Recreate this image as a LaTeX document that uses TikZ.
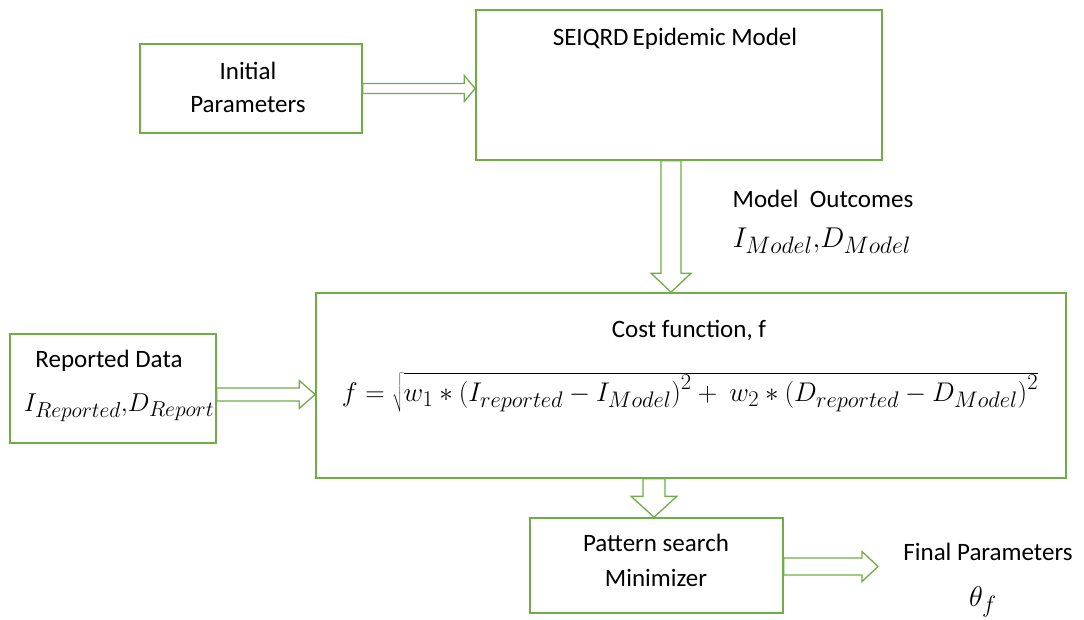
\documentclass[tikz,border=0pt]{standalone}
\usepackage{graphicx}
\usepackage{fontspec}
\setmainfont{Carlito}
\usetikzlibrary{calc}
\definecolor{boxgreen}{RGB}{112,173,71}
\pgfdeclarelayer{bg}
\pgfsetlayers{bg,main}

% hollow block arrows: start, tip, shaft half-width, head half-width, head length
\newcommand\harrow[5]{%
  \draw[blk] ($(#1)+(0,-#3)$) -- ($(#2)+(-#5,-#3)$) -- ($(#2)+(-#5,-#4)$) -- (#2)
    -- ($(#2)+(-#5,#4)$) -- ($(#2)+(-#5,#3)$) -- ($(#1)+(0,#3)$) -- cycle;}
\newcommand\varrow[5]{%
  \draw[blk] ($(#1)+(-#3,0)$) -- ($(#2)+(-#3,-#5)$) -- ($(#2)+(-#4,-#5)$) -- (#2)
    -- ($(#2)+(#4,-#5)$) -- ($(#2)+(#3,-#5)$) -- ($(#1)+(#3,0)$) -- cycle;}

\begin{document}
\begin{tikzpicture}[x=1pt,y=-1pt,
  box/.style={draw=boxgreen,line width=1.6pt,fill=white,inner sep=0pt},
  blk/.style={draw=boxgreen,line width=1.3pt,fill=white,line join=miter},
  lbl/.style={font=\fontsize{25}{32}\selectfont,inner sep=0pt,anchor=base},
  mth/.style={font=\fontsize{24.88}{30}\selectfont,inner sep=0pt,anchor=base}]
\useasboundingbox (0,0) rectangle (1084,619);

% boxes
\node[box,minimum width=222pt,minimum height=89pt]  (init)     at (251,88.5) {};
\node[box,minimum width=406pt,minimum height=150pt] (seiqrd)   at (679,85) {};
\node[box,minimum width=206pt,minimum height=109pt] (reported) at (113,388.5) {};
\node[box,minimum width=750pt,minimum height=185pt] (cost)     at (691,385.5) {};
\node[box,minimum width=253pt,minimum height=95pt]  (pattern)  at (656.5,565.5) {};

% box texts
\node[lbl] (tInit1) at (248,79) {Initial};
\node[lbl] (tInit2) at (248,112) {Parameters};
\node[lbl] (tSeir)  at (675,45) {SEIQRD\,Epidemic Model};
\node[lbl] (tRep)   at (109,367) {Reported Data};
\node[mth] (tRepM)  at (119,411) {\scalebox{1.04}{$I_{Reported},\!D_{Report}$}};
\node[lbl] (tCost)  at (689,337) {Cost function, f};
\node[mth] (tForm)  at (690,401)
  {\scalebox{1.085}{$f=\sqrt{w_1 * \bigl(I_{reported}-I_{Model}\bigr)^{2}+\ w_2 * \bigl(D_{reported}-D_{Model}\bigr)^{2}}$}};
\node[lbl] (tPat1)  at (656,551) {Pattern search};
\node[lbl] (tPat2)  at (656,586) {Minimizer};

% free labels
\node[lbl] (tOut)   at (823,207) {Model\ \ Outcomes};
\node[mth] (tOutM)  at (822,247) {\scalebox{1.15}{$I_{Model},\!D_{Model}$}};
\node[lbl] (tFin)   at (988,560) {Final Parameters};
\node[mth] (tTheta) at (983,606) {\scalebox{1.15}{$\theta_f$}};

% connectors
\coordinate (a1s) at (init.east);
\coordinate (a1e) at (a1s -| seiqrd.west);
\coordinate (a2s) at ($(seiqrd.south)+(-8,0)$);
\coordinate (a2e) at (a2s |- cost.north);
\coordinate (a3s) at ($(reported.east)+(0,6)$);
\coordinate (a3e) at (a3s -| cost.west);
\coordinate (a4e) at ($(pattern.north)+(-2.5,0)$);
\coordinate (a4s) at (a4e |- cost.south);
\coordinate (a5s) at ($(pattern.east)+(0,1)$);
\coordinate (a5e) at (878,566.5);
\begin{pgfonlayer}{bg}
  \harrow{a1s}{a1e}{5}{13}{11}
  \varrow{a2s}{a2e}{10}{20}{19}
  \harrow{a3s}{a3e}{6.5}{14}{16}
  \varrow{a4s}{a4e}{11}{23}{21}
  \harrow{a5s}{a5e}{8.5}{15}{16}
\end{pgfonlayer}
\end{tikzpicture}
\end{document}
